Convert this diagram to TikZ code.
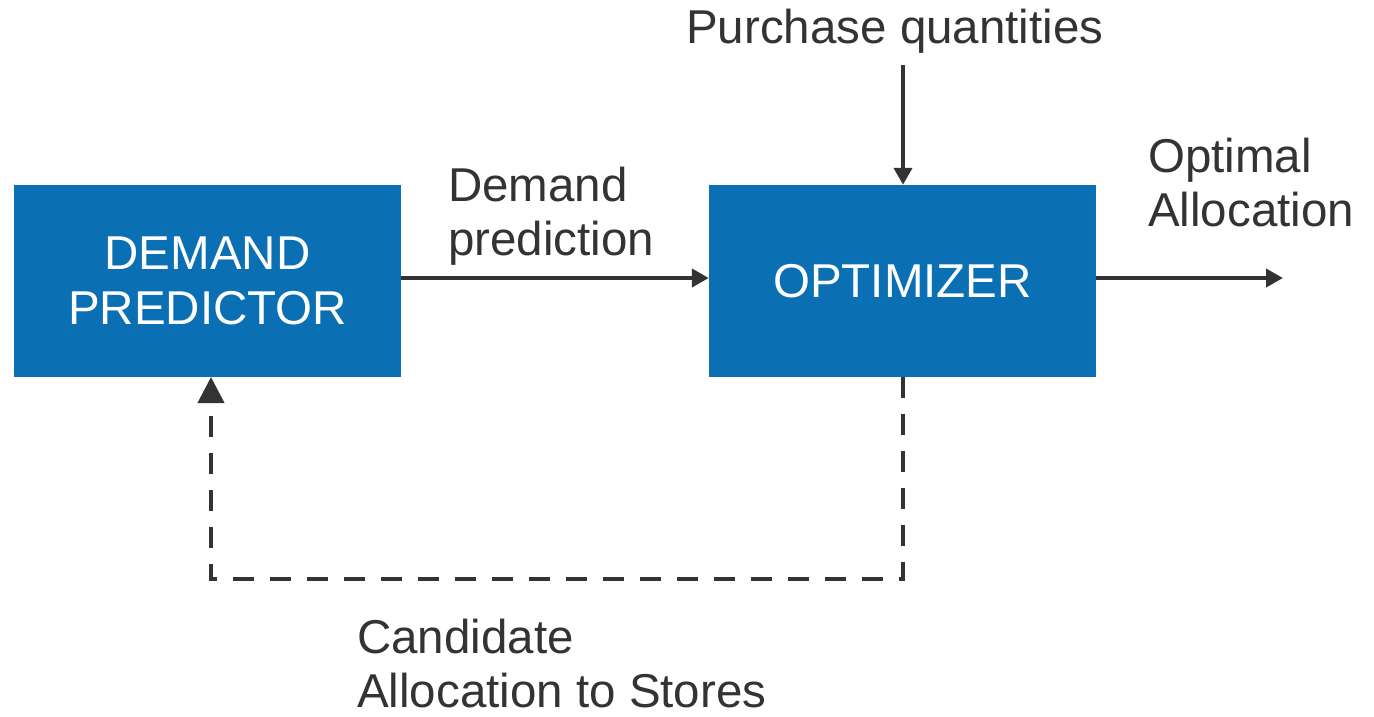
\documentclass[tikz,border=0pt]{standalone}
\usepackage{fontspec}
\setmainfont{Liberation Sans}
\usetikzlibrary{arrows.meta}
\definecolor{boxblue}{HTML}{0B70B3}
\definecolor{ink}{HTML}{333333}
\begin{document}
\begin{tikzpicture}[x=1pt,y=-1pt,
  block/.style={rectangle, fill=boxblue, draw=none, minimum width=387pt, minimum height=192pt,
    inner sep=0pt, text=white, align=center, font=\fontsize{47.5}{55}\selectfont},
  label/.style={inner sep=0pt, text=ink, align=left, text depth=0pt,
    font=\fontsize{47.5}{54}\selectfont},
  flow/.style={draw=ink, line width=4pt, -{Triangle[length=17pt,width=18pt]}},
  feedback/.style={draw=ink, line width=4pt, dash pattern=on 21pt off 16pt,
    -{Triangle[length=26pt,width=26pt]}}]
  \useasboundingbox (0,0) rectangle (1374,716);

  % processing blocks
  \node[block] (pred) at (207.5,281) {DEMAND\\PREDICTOR};
  \node[block] (opt) at (902.5,281) {OPTIMIZER};

  % free ends of the input, output and feedback lines
  \coordinate (qin) at (903,65);
  \coordinate (out) at (1283,278);
  \coordinate (fbR) at (903,579);
  \coordinate (fbL) at (211,579);
  \coordinate (fbEnd) at (211,377);

  % connectors
  \draw[flow] ([yshift=3pt]pred.east) -- ([yshift=3pt]opt.west);
  \draw[flow] (qin) -- (opt.north -| qin);
  \draw[flow] ([yshift=3pt]opt.east) -- (out);
  \draw[feedback] (opt.south -| fbR) -- (fbR) -- (fbL) -- (fbEnd);

  % labels (base anchor sits on the last line's baseline)
  \node[label, anchor=base west] (lq) at (686,43) {Purchase quantities};
  \node[label, anchor=base west] (ld) at (448,255) {Demand\\prediction};
  \node[label, anchor=base west] (lo) at (1148,226) {Optimal\\Allocation};
  \node[label, anchor=base west] (lc) at (357,707) {Candidate\\Allocation to Stores};
\end{tikzpicture}
\end{document}
